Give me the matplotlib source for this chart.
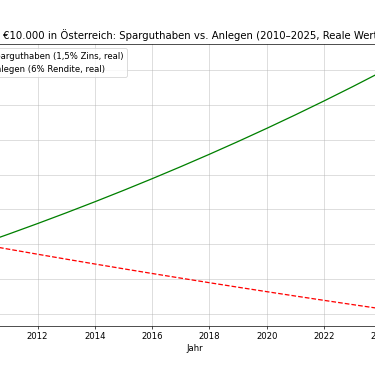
import matplotlib
matplotlib.use("Agg")
import matplotlib.pyplot as plt
from matplotlib.transforms import Bbox

# Jahre und reale Werte (Inflation ca. 3 %), Startkapital 10.000 €
jahre = list(range(2010, 2026))
sparguthaben = [10000.0, 9854.4, 9710.9, 9569.4, 9430.1, 9292.7, 9157.4, 9024.1,
                8892.6, 8763.1, 8635.5, 8509.8, 8385.8, 8263.7, 8143.4, 8024.8]
anlegen = [10000.0, 10291.3, 10591.0, 10899.5, 11217.0, 11543.7, 11879.9, 12225.9,
           12582.0, 12948.5, 13325.6, 13713.7, 14113.2, 14524.2, 14947.2, 15382.6]

plt.figure(figsize=(10, 6))
plt.plot(jahre, sparguthaben, color='red', linestyle='--', linewidth=1.5,
         label='Sparguthaben (1,5% Zins, real)')
plt.plot(jahre, anlegen, color='green', linestyle='-', linewidth=1.5,
         label='Anlegen (6% Rendite, real)')

plt.title("€10.000 in Österreich: Sparguthaben vs. Anlegen (2010–2025, Reale Werte)", fontsize=12)
plt.xlabel("Jahr")
plt.ylabel("Wert in €")
plt.grid(True, alpha=0.6)
plt.legend(loc='upper left')

# Nur den mittleren Ausschnitt speichern (375 x 366 Pixel)
dpi = 61
x0 = (610 - 375) / 2 / dpi
plt.savefig("out.png", dpi=dpi, bbox_inches=Bbox([[x0, 0], [x0 + 375 / dpi, 6]]))
